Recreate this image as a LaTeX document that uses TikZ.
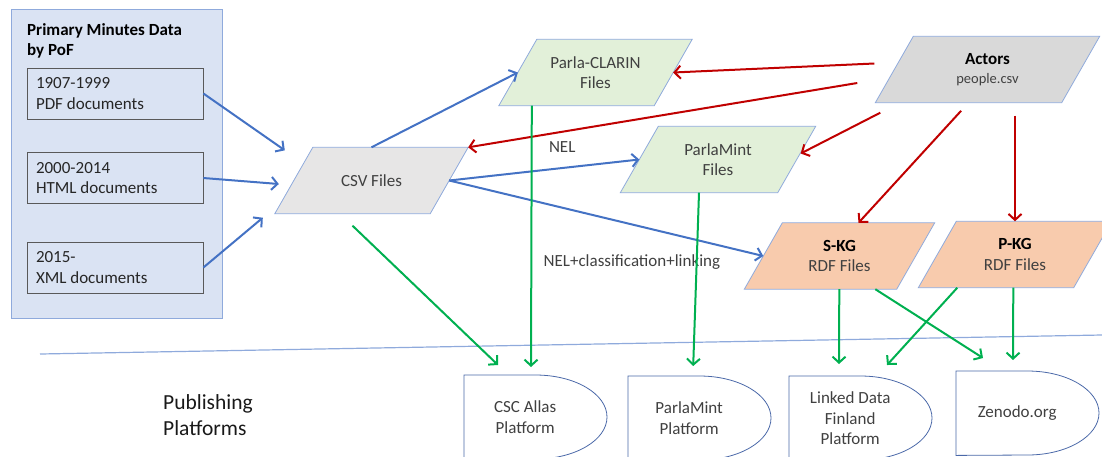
\documentclass[tikz,border=0pt]{standalone}
\usepackage{fontspec}
\setmainfont{Carlito}
\usepackage{tikz}
\usetikzlibrary{arrows.meta}
\usetikzlibrary{calc,backgrounds}

\definecolor{panelblue}{HTML}{DAE3F3}
\definecolor{framegray}{HTML}{595959}
\definecolor{shapeline}{HTML}{8FAADC}
\definecolor{platline}{HTML}{4A68A8}
\definecolor{csvgray}{HTML}{E7E6E6}
\definecolor{actgray}{HTML}{D9D9D9}
\definecolor{filegreen}{HTML}{E2F0D9}
\definecolor{rdforange}{HTML}{F8CBAD}
\definecolor{arrblue}{HTML}{4472C4}
\definecolor{arrred}{HTML}{C00000}
\definecolor{arrgreen}{HTML}{00B050}
\definecolor{txtgray}{HTML}{404040}

\begin{document}
\begin{tikzpicture}[x=1pt,y=-1pt,
  every node/.style={font=\fontsize{17}{20.5}\selectfont, text=txtgray},
  files/.style={minimum height=66pt, minimum width=155pt, align=center, inner sep=2pt},
  srcbox/.style={draw=framegray, fill=panelblue, line width=0.8pt, text=black!85,
    minimum width=176pt, minimum height=51pt, text width=158pt, align=flush left, inner xsep=9pt},
  platform/.style={minimum width=122pt, minimum height=84pt, anchor=north west,
    align=center, inner sep=0pt},
  arrowline/.style={-{Straight Barb[length=6pt,width=13pt]}, line width=2pt},
  bluearr/.style={arrowline, color=arrblue},
  redarr/.style={arrowline, color=arrred},
  greenarr/.style={arrowline, color=arrgreen}]

  \useasboundingbox (0,0) rectangle (1102,456);

  % source data
  \node[draw=shapeline, fill=panelblue, line width=0.8pt, minimum width=211pt,
    minimum height=309pt, inner sep=0pt] (PoF) at (116.5,163.5) {};
  \node[anchor=north west, inner sep=0pt, align=left, text=black,
    font=\fontsize{17}{20.5}\selectfont\bfseries] (title) at (27,23) {Primary Minutes Data\\by PoF};
  \node[srcbox] (B1) at (115,93.5) {1907-1999\\PDF documents};
  \node[srcbox] (B2) at (115,178) {2000-2014\\HTML documents};
  \node[srcbox] (B3) at (115,267.5) {2015-\\XML documents};

  % files (parallelograms drawn behind)
  \node[files] (CSV) at (371.5,180.5) {CSV Files};
  \node[files] (PC) at (595.5,72.5) {Parla-CLARIN\\Files};
  \node[files, minimum width=157pt] (PM) at (718,159.5) {ParlaMint\\Files};
  \node[files, minimum width=186pt, font=\fontsize{17}{18.5}\selectfont]
    (ACT) at (987.5,69.5) {\textcolor{black}{\textbf{Actors}}\\{\fontsize{14.5}{17}\selectfont people.csv}};
  \node[files, minimum width=152pt] (SKG) at (839.5,256) {\textcolor{black}{\textbf{S-KG}}\\RDF Files};
  \node[files] (PKG) at (1015,254.5) {\textcolor{black}{\textbf{P-KG}}\\RDF Files};
  \begin{pgfonlayer}{background}
    \foreach \n/\c in {CSV/csvgray,PC/filegreen,PM/filegreen,ACT/actgray,SKG/rdforange,PKG/rdforange}
      \draw[draw=shapeline, fill=\c, line width=0.8pt]
        ($(\n.north west)+(19,0)$) -- ($(\n.north east)+(19,0)$)
        -- ($(\n.south east)+(-19,0)$) -- ($(\n.south west)+(-19,0)$) -- cycle;
  \end{pgfonlayer}

  % divider
  \coordinate (L1) at (40,354);
  \coordinate (L2) at (1102,335);
  \draw[shapeline, line width=1.2pt] (L1) -- (L2);

  % platforms
  \node[anchor=west, inner sep=0pt, align=left, text=black!90,
    font=\fontsize{21.5}{26}\selectfont] (pub) at (163,415) {Publishing\\Platforms};
  \node[platform] (CSC) at (464,375) {CSC Allas\\Platform};
  \node[platform] (PMP) at (628,376) {ParlaMint\\Platform};
  \node[platform] (LDF) at (789,376) {Linked Data\\Finland\\Platform};
  \node[platform] (ZEN) at (956,371) {Zenodo.org};
  \foreach \p in {CSC,PMP,LDF,ZEN}
    \draw[platline, line width=0.8pt] (\p.north west) -- ++(71.5pt,0pt)
      arc[start angle=90, end angle=-90, x radius=71.5pt, y radius=42pt]
      -- (\p.south west) -- cycle;

  \path[bluearr] (B1.east) edge ($(CSV.north west)+(-9,3)$)
    (B2.east) edge ($(CSV.west)+(-15,3.5)$)
    (B3.east) edge ($(CSV.south west)+(-31,4)$)
    (CSV.north) edge (PC.west)
    (CSV.east) edge (PM.west)
    (CSV.east) edge (SKG.west);

  \path[redarr] ($(ACT.west)+(-20,-6)$) edge (PC.east)
    ($(ACT.west)+(-37,13.5)$) edge ($(CSV.north east)+(19,0)$)
    ($(ACT.south west)+(-14,10)$) edge ($(PM.east)+(4,-6)$)
    ($(ACT.south)+(-19,0)$) edge[shorten <=11pt] ($(SKG.north)+(19,0)$)
    (PKG.north |- ACT.south) edge[shorten <=13pt] (PKG.north);

  \path[greenarr] ($(CSV.south)+(-19,12)$) edge ($(CSC.north west)+(34,-10)$)
    ($(PC.south west)+(14,0)$) edge
      node[pos=0.157, anchor=west, xshift=13pt] (nel) {NEL}
      node[pos=0.598, anchor=west, xshift=8pt] (nelcl) {NEL+classification+linking}
      ($(CSC.north west)+(67,-8)$)
    ($(PM.south)+(-19,0)$) edge ($(PMP.north)+(4,-10)$)
    ($(SKG.south west)+(76,0)$) edge ($(LDF.north west)+(50,-12)$)
    ($(SKG.south west)+(112,0)$) edge ($(ZEN.north west)+(27,-13)$)
    ($(PKG.south west)+(20,0)$) edge ($(LDF.north west)+(98,-11)$)
    ($(PKG.south west)+(76,0)$) edge ($(ZEN.north west)+(57,-11)$);
\end{tikzpicture}
\end{document}
